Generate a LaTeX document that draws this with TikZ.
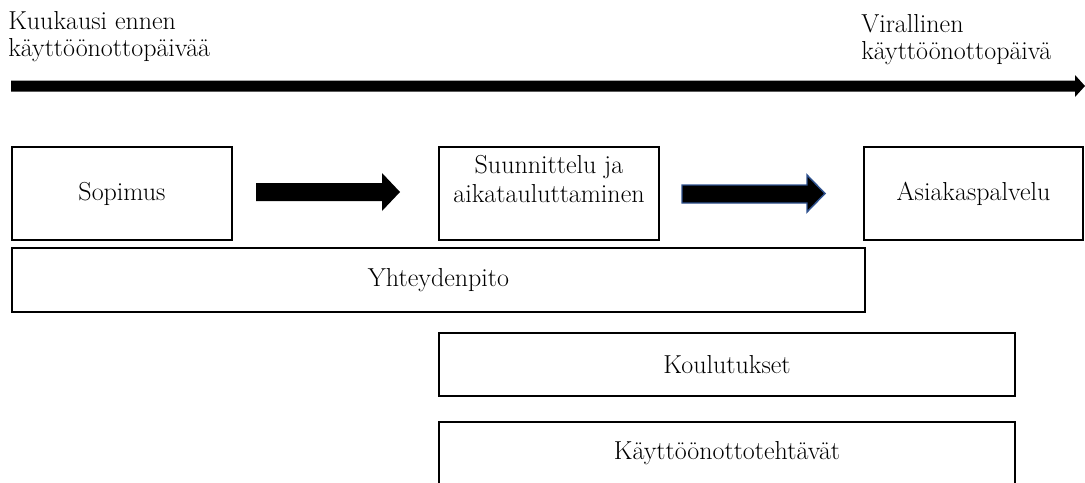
\documentclass[tikz,border=0pt]{standalone}
\usepackage{tikz}

\definecolor{outlineblue}{HTML}{2F528F}

\tikzset{
  phase/.style={draw, line width=1.1pt, inner sep=0pt, align=center,
    font=\fontsize{19.5}{21.75}\selectfont},
  timelabel/.style={anchor=north west, inner sep=0pt, align=left,
    font=\fontsize{19.5}{20.5}\selectfont}
}

\begin{document}
\begin{tikzpicture}[x=0.75pt,y=-0.75pt]
\useasboundingbox (0,0) rectangle (1085,482);

    % Time line
    \node[timelabel] (before) at (8,11) {Kuukausi ennen\\käyttöönottopäivää};
    \node[timelabel] (golive) at (861,14) {Virallinen\\käyttöönottopäivä};
    \coordinate (tstart) at (11,86);
    \coordinate (tend) at (1085,86);
    \fill (tstart) ++(0,-5.5) -- ++(1064,0) -- ++(0,-5.5) -- (tend)
        -- ++(-10,11) -- ++(0,-5.5) -- ++(-1064,0) -- cycle;

    % Phases
    \node[phase, minimum width=165pt, minimum height=69.75pt] (contract) at (122,193.5) {Sopimus};
    \node[phase, minimum width=165pt, minimum height=69.75pt] (planning) at (549,193.5) {Suunnittelu ja\\aikatauluttaminen\\[-7pt] \strut};
    \node[phase, minimum width=164.25pt, minimum height=69.75pt] (service) at (973.5,193.5) {Asiakaspalvelu};

    % Block arrows
    \fill (256,183) -- (382,183) -- (382,173) -- (400,192)
        -- (382,211) -- (382,201) -- (256,201) -- cycle;
    \filldraw[draw=outlineblue, line width=1.1pt] (682,185) -- (807,185) -- (807,175) -- (825,193.5)
        -- (807,212) -- (807,203) -- (682,203) -- cycle;

    % Parallel tasks
    \node[phase, minimum width=639.75pt, minimum height=48pt] (contact) at (438.5,280) {Yhteydenpito};
    \node[phase, minimum width=432pt, minimum height=47.25pt] (training) at (727,364.5) {Koulutukset};
    \node[phase, minimum width=432pt, minimum height=47.25pt] (tasks) at (727,453.5) {Käyttöönottotehtävät};

\end{tikzpicture}
\end{document}
